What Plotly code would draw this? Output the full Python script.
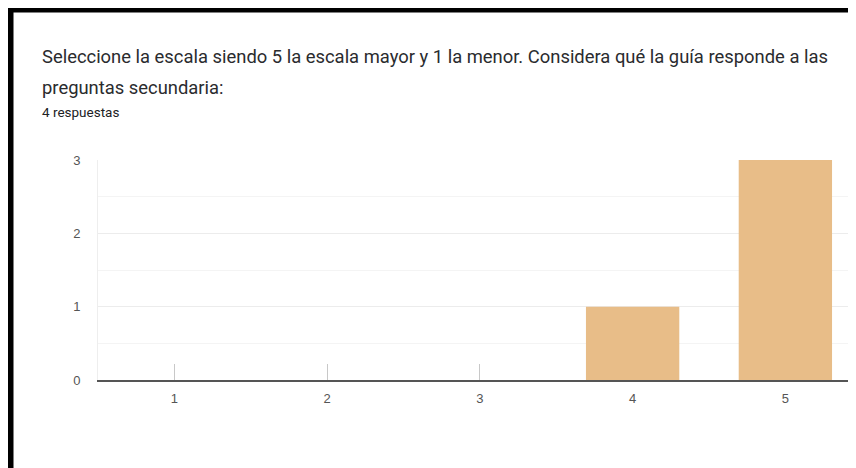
import plotly.graph_objects as go

categories = [1, 2, 3, 4, 5]
counts = [0, 0, 0, 1, 3]
y_ticks = [0, 1, 2, 3]
title_line1 = "Seleccione la escala siendo 5 la escala mayor y 1 la menor. Considera qué la guía responde a las"
title_line2 = "preguntas secundaria:"
subtitle = "4 respuestas"

# the page body has an 8px margin, so the figure starts at (8, 8) in the window
OFF = 8
W_FIG, H_FIG = 856 - OFF, 468 - OFF
L, R, T, B = 98 - OFF, 0, 160 - OFF, 468 - 380
PW = W_FIG - L - R
PH = H_FIG - T - B
BASE = T + PH


def px(x):
    return (x - OFF - L) / PW


def py(y):
    return (BASE - (y - OFF)) / PH


fig = go.Figure(
    go.Bar(
        x=categories,
        y=counts,
        marker=dict(color="#e8bd88", line=dict(width=0)),
        hoverinfo="skip",
    )
)

fig.update_layout(
    width=W_FIG,
    height=H_FIG,
    margin=dict(l=L, r=R, t=T, b=B, pad=0),
    paper_bgcolor="white",
    plot_bgcolor="white",
    bargap=0.389,
    showlegend=False,
    font=dict(family="Liberation Sans, Arial, sans-serif", color="#444444", size=12),
)

fig.update_xaxes(
    range=[0.5, 0.5 + PW / 152.75],
    tickmode="array",
    tickvals=categories,
    ticktext=[str(c) for c in categories],
    ticks="inside",
    ticklen=16,
    tickwidth=1,
    tickcolor="#c8c8c8",
    ticklabelstandoff=6,
    showgrid=False,
    zeroline=False,
    showline=True,
    linecolor="#555555",
    linewidth=1.6,
    layer="below traces",
    tickfont=dict(size=13, color="#555555"),
    fixedrange=True,
)

fig.update_yaxes(
    range=[0, 3],
    tickmode="array",
    tickvals=y_ticks,
    ticktext=[str(v) for v in y_ticks],
    showgrid=True,
    gridcolor="#ececec",
    gridwidth=1,
    minor=dict(dtick=0.5, showgrid=True, gridcolor="#f4f4f4", gridwidth=1),
    zeroline=False,
    showline=True,
    linecolor="#eeeeee",
    linewidth=1,
    ticks="",
    ticklabelstandoff=14,
    tickfont=dict(size=13, color="#555555"),
    layer="below traces",
    fixedrange=True,
)

annots = [
    dict(text=title_line1, x=px(40), y=py(57), size=18.4, color="#2a2b2e"),
    dict(text=title_line2, x=px(40), y=py(87), size=18.4, color="#2a2b2e"),
    dict(text=subtitle, x=px(40), y=py(112), size=13.5, color="#202124"),
]
for a in annots:
    fig.add_annotation(
        text=a["text"],
        x=a["x"],
        y=a["y"],
        xref="paper",
        yref="paper",
        xanchor="left",
        yanchor="middle",
        showarrow=False,
        font=dict(family="Roboto, sans-serif", size=a["size"], color=a["color"]),
    )

# black screenshot frame (top and left edges)
fig.add_shape(type="rect", xref="paper", yref="paper",
              x0=px(8), x1=px(870), y0=py(8), y1=py(12.5),
              fillcolor="black", line=dict(width=0), layer="above")
fig.add_shape(type="rect", xref="paper", yref="paper",
              x0=px(8), x1=px(13.5), y0=py(8), y1=py(480),
              fillcolor="black", line=dict(width=0), layer="above")

fig.write_html("out.html", config={"displayModeBar": False})
